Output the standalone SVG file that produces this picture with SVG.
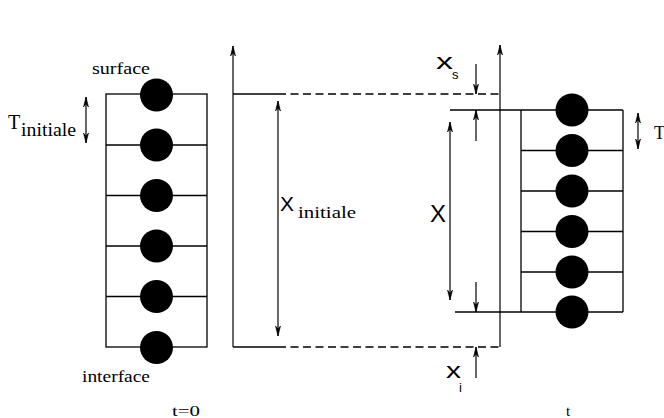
<svg xmlns="http://www.w3.org/2000/svg" width="664" height="418" viewBox="0 0 664 418">
<defs>
<marker id="ah" viewBox="-11 -4 12 8" refX="0" refY="0" markerWidth="12" markerHeight="8" markerUnits="userSpaceOnUse" orient="auto-start-reverse">
<path d="M -10 -2.5 L 0 0 L -10 2.5 L -7 0 Z" fill="#000" stroke="#000" stroke-width="0.6"/>
</marker>
<style>
.ln{stroke:#000;stroke-width:1.3;fill:none}
.dash{stroke:#000;stroke-width:1.3;fill:none;stroke-dasharray:8 4.5}
.arr{stroke:#000;stroke-width:1.2;fill:none}
.dot{fill:#000}
.serif{font-family:"Liberation Serif","DejaVu Serif",serif;fill:#000}
.sans{font-family:"Liberation Sans","DejaVu Sans",sans-serif;fill:#000}
</style>
</defs>
<rect width="664" height="418" fill="#fff"/>

<g id="layer-initial">
<rect x="106" y="94" width="101" height="253" class="ln"/>
<line x1="106" y1="145" x2="207" y2="145" class="ln"/>
<line x1="106" y1="195.5" x2="207" y2="195.5" class="ln"/>
<line x1="106" y1="246" x2="207" y2="246" class="ln"/>
<line x1="106" y1="296.5" x2="207" y2="296.5" class="ln"/>
<circle cx="156.5" cy="95" r="16.5" class="dot"/>
<circle cx="156.5" cy="145" r="16.5" class="dot"/>
<circle cx="156.5" cy="195.5" r="16.5" class="dot"/>
<circle cx="156.5" cy="246" r="16.5" class="dot"/>
<circle cx="156.5" cy="296.5" r="16.5" class="dot"/>
<circle cx="156.5" cy="347.5" r="16.5" class="dot"/>
<text x="92" y="74" class="serif" font-size="16" textLength="58" lengthAdjust="spacingAndGlyphs">surface</text>
<text x="82" y="382" class="serif" font-size="16" textLength="68" lengthAdjust="spacingAndGlyphs">interface</text>
<text x="8" y="129" class="serif" font-size="20">T</text>
<text x="21" y="136" class="serif" font-size="18" textLength="55" lengthAdjust="spacingAndGlyphs">initiale</text>
<text x="172" y="416" class="serif" font-size="15" textLength="28" lengthAdjust="spacingAndGlyphs">t=0</text>
</g>

<g id="layer-final">
<line x1="450" y1="110" x2="623" y2="110" class="ln"/>
<line x1="455" y1="312" x2="623" y2="312" class="ln"/>
<line x1="521" y1="110" x2="521" y2="312" class="ln"/>
<line x1="623" y1="110" x2="623" y2="312" class="ln"/>
<line x1="521" y1="150.5" x2="623" y2="150.5" class="ln"/>
<line x1="521" y1="191" x2="623" y2="191" class="ln"/>
<line x1="521" y1="231.5" x2="623" y2="231.5" class="ln"/>
<line x1="521" y1="272" x2="623" y2="272" class="ln"/>
<circle cx="572" cy="110" r="16.5" class="dot"/>
<circle cx="572" cy="150.5" r="16.5" class="dot"/>
<circle cx="572" cy="191" r="16.5" class="dot"/>
<circle cx="572" cy="231.5" r="16.5" class="dot"/>
<circle cx="572" cy="272" r="16.5" class="dot"/>
<circle cx="572" cy="312" r="16.5" class="dot"/>
<text x="654" y="139" class="serif" font-size="18">T</text>
<text x="566" y="416" class="serif" font-size="15">t</text>
</g>

<g id="axis-initial">
<line x1="233" y1="94" x2="278" y2="94" class="ln"/>
<line x1="233" y1="347" x2="278" y2="347" class="ln"/>
<text x="280" y="211" class="sans" font-size="21">X</text>
<text x="298" y="218" class="serif" font-size="17" textLength="58" lengthAdjust="spacingAndGlyphs">initiale</text>
</g>

<g id="axis-final">
<text x="430" y="222" class="sans" font-size="24">X</text>
<text x="436" y="69" class="sans" font-size="22" textLength="17" lengthAdjust="spacingAndGlyphs">x</text>
<text x="452" y="79" class="sans" font-size="13">s</text>
<text x="446" y="378" class="sans" font-size="22" textLength="15" lengthAdjust="spacingAndGlyphs">x</text>
<text x="459" y="392" class="sans" font-size="13">i</text>
</g>

<g id="connectors">
<line x1="278" y1="94" x2="500" y2="94" class="dash"/>
<line x1="278" y1="347" x2="500" y2="347" class="dash"/>
<line x1="233" y1="347" x2="233" y2="46" class="arr" marker-end="url(#ah)"/>
<line x1="500" y1="347" x2="500" y2="45" class="arr" marker-end="url(#ah)"/>
<line x1="278" y1="101" x2="278" y2="336" class="arr" marker-start="url(#ah)" marker-end="url(#ah)"/>
<line x1="450" y1="122" x2="450" y2="300" class="arr" marker-start="url(#ah)" marker-end="url(#ah)"/>
<line x1="86" y1="97" x2="86" y2="143" class="arr" marker-start="url(#ah)" marker-end="url(#ah)"/>
<line x1="638" y1="113" x2="638" y2="149" class="arr" marker-start="url(#ah)" marker-end="url(#ah)"/>
<line x1="476" y1="64" x2="476" y2="94" class="arr" marker-end="url(#ah)"/>
<line x1="476" y1="141" x2="476" y2="110" class="arr" marker-end="url(#ah)"/>
<line x1="476" y1="282" x2="476" y2="312" class="arr" marker-end="url(#ah)"/>
<line x1="476" y1="378" x2="476" y2="347" class="arr" marker-end="url(#ah)"/>
</g>
</svg>
